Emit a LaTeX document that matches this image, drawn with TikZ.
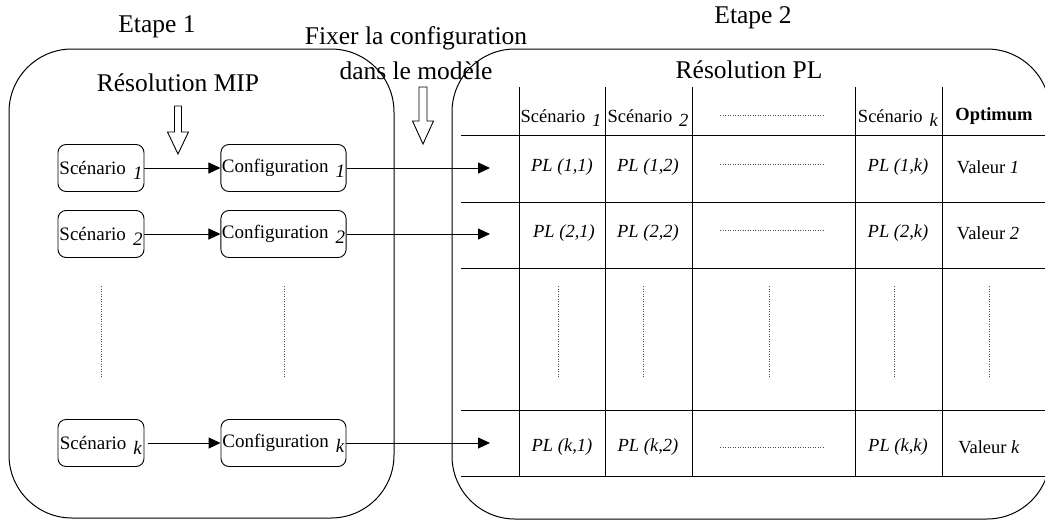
\documentclass[tikz,border=0pt]{standalone}
\usepackage{fontspec}
\setmainfont{Liberation Serif}
\usetikzlibrary{arrows.meta}
\newcommand\lowit[1]{\hspace{0.12em}\raisebox{-0.25em}[0pt][0pt]{\textit{#1}}}
\begin{document}
\begin{tikzpicture}[x=1pt,y=-1pt,
  frame/.style={draw,line width=1pt,rounded corners=63pt},
  title/.style={font=\fontsize{25.5}{35}\selectfont,align=center,inner sep=0pt},
  cell/.style={font=\fontsize{18.5}{20}\selectfont,inner sep=0pt},
  sbox/.style={draw,line width=0.9pt,rounded corners=8pt,minimum width=86pt,minimum height=47pt,inner sep=1pt,font=\fontsize{19}{20}\selectfont},
  cbox/.style={sbox,minimum width=125pt},
  conn/.style={line width=0.9pt,-{Triangle[length=12pt,width=11pt]}},
  gridline/.style={line width=1pt},
  dots/.style={dotted,line width=0.5pt,black!70},
  hollow/.style={draw,line width=0.9pt,fill=white}
]
\useasboundingbox (0,0) rectangle (1045,520);
\begin{scope}
\clip (0,0) rectangle (1045,520);
\draw[frame] (9,49) rectangle (394,518);
\draw[frame] (452,49) rectangle (1050,519);
\end{scope}

% titles
\node[title] (e1) at (157,27) {Etape 1};
\node[title] (e2) at (753,18) {Etape 2};
\node[title] (fix) at (416,53) {Fixer la configuration\\dans le modèle};
\node[title] (mip) at (178,83) {Résolution MIP};
\node[title] (pl) at (749,70) {Résolution PL};

% hollow arrows
\draw[hollow] (174.5,106) -- (181.5,106) -- (181.5,132) -- (188.5,132) -- (178,154) -- (167.5,132) -- (174.5,132) -- cycle;
\draw[hollow] (419,87) -- (427,87) -- (427,121) -- (433.5,121) -- (423,144) -- (412.5,121) -- (419,121) -- cycle;

% left boxes
\node[sbox] (s1) at (101,168) {Scénario \lowit{1}};
\node[cbox] (c1) at (283.5,168) {Configuration \lowit{1}};
\node[sbox] (s2) at (101,234) {Scénario \lowit{2}};
\node[cbox] (c2) at (283.5,234) {Configuration \lowit{2}};
\node[sbox] (sk) at (101,443) {Scénario \lowit{k}};
\node[cbox] (ck) at (283.5,443) {Configuration \lowit{k}};
\draw[dots] (101,286) -- (101,378);
\draw[dots] (284,286) -- (284,378);

\coordinate (t1) at (490,168);
\coordinate (t2) at (490,234);
\coordinate (tk) at (490,443);
\draw[conn] (s1) -- (c1);
\draw[conn] (s2) -- (c2);
\draw[conn] ([xshift=4pt]sk.east) -- (ck);
\draw[conn] (c1) -- (t1);
\draw[conn] (c2) -- (t2);
\draw[conn] (ck) -- (tk);

% table
\foreach \y in {135,202,268,410,476} \draw[gridline] (461,\y) -- (1045,\y);
\foreach \x in {519,605,692,855,942} \draw[gridline] (\x,87) -- (\x,476);
\foreach \x in {558,643,769,894,989} \draw[dots] (\x,286) -- (\x,378);
\foreach \y in {115,164,230,447} \draw[dots] (720,\y) -- (825,\y);

\node[cell] (h1) at (561,116) {Scénario \lowit{1}};
\node[cell] (h2) at (648,116) {Scénario \lowit{2}};
\node[cell] (hk) at (898,116) {Scénario \lowit{k}};
\node[cell] (ho) at (994,116) {\textbf{Optimum}};

\node[cell] (p11) at (562,167) {\textit{PL (1,1)}};
\node[cell] (p12) at (648,167) {\textit{PL (1,2)}};
\node[cell] (p1k) at (898,167) {\textit{PL (1,k)}};
\node[cell] (v1) at (988,167) {Valeur \textit{1}};

\node[cell] (p21) at (564,233) {\textit{PL (2,1)}};
\node[cell] (p22) at (648,233) {\textit{PL (2,2)}};
\node[cell] (p2k) at (898,233) {\textit{PL (2,k)}};
\node[cell] (v2) at (988,233) {Valeur \textit{2}};

\node[cell] (pk1) at (562,447) {\textit{PL (k,1)}};
\node[cell] (pk2) at (648,447) {\textit{PL (k,2)}};
\node[cell] (pkk) at (898,447) {\textit{PL (k,k)}};
\node[cell] (vk) at (989,447) {Valeur \textit{k}};
\end{tikzpicture}
\end{document}
